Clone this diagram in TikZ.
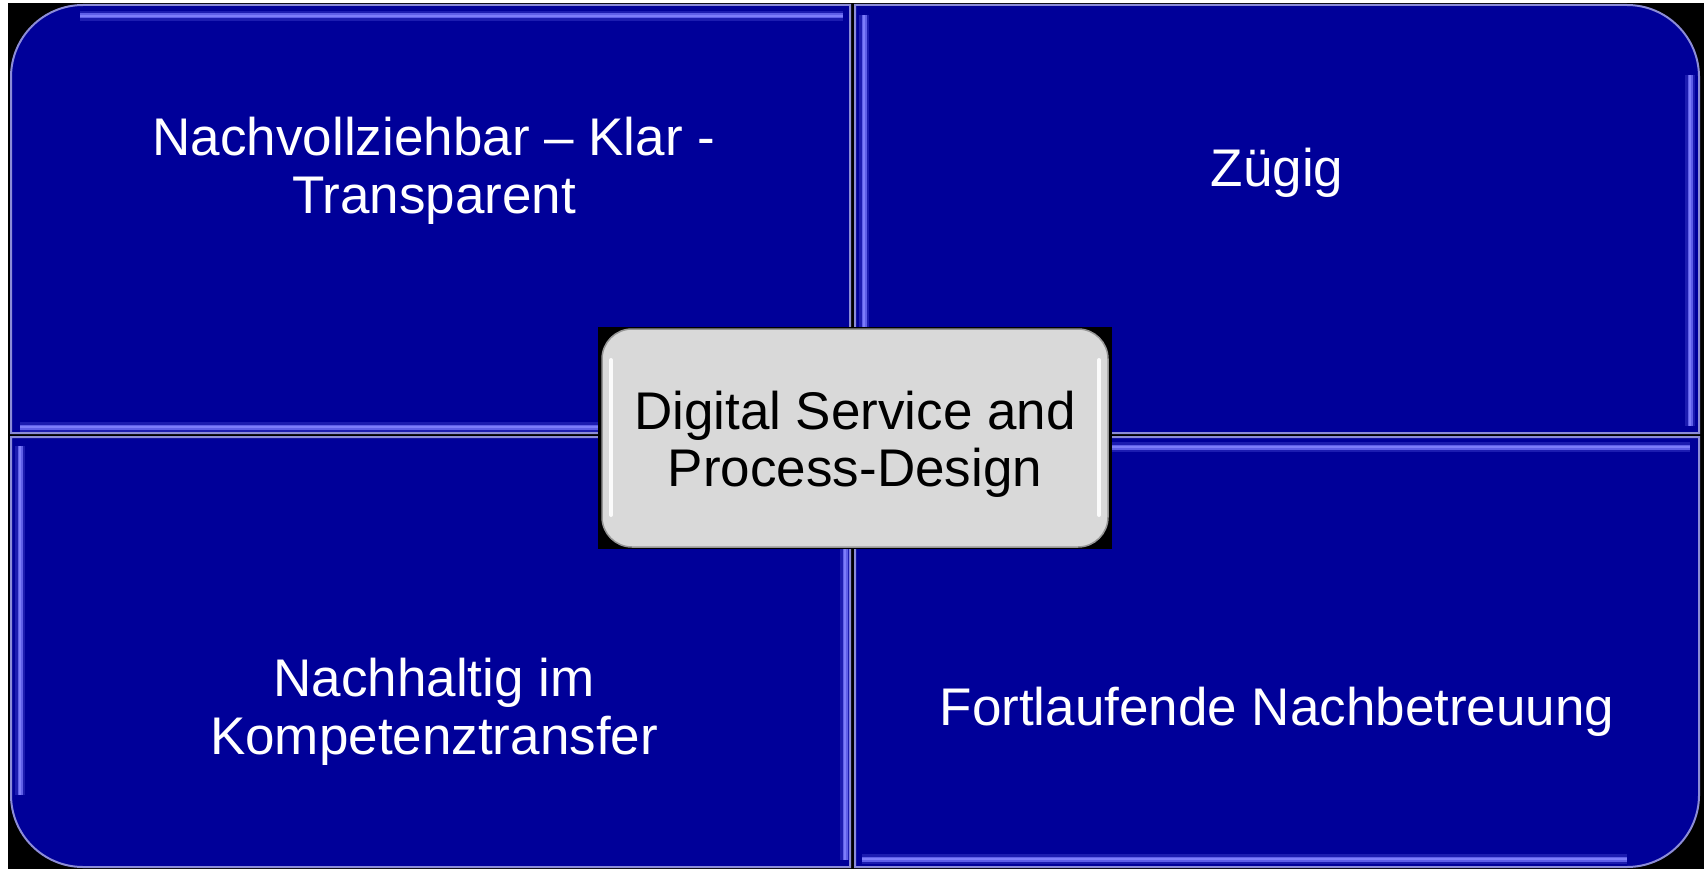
\documentclass[tikz,border=0pt]{standalone}
\usepackage{fontspec}
\setmainfont{Liberation Sans}
\definecolor{quadblue}{RGB}{0,0,153}
\definecolor{rimc}{RGB}{140,140,215}
\definecolor{stripc}{RGB}{95,95,232}
\definecolor{stripin}{RGB}{125,125,250}
\definecolor{boxgrey}{RGB}{217,217,217}
\definecolor{boxrim}{RGB}{150,150,150}
\tikzset{
  quad/.style={fill=quadblue, draw=rimc, line width=2pt},
  striphalo/.style={draw=stripc, line width=10pt, opacity=0.3},
  strip/.style={draw=stripc, line width=5pt},
  stripcore/.style={draw=stripin, line width=2pt},
  qtext/.style={text=white, align=center, inner sep=0pt, font=\fontsize{53}{58}\selectfont},
  ctext/.style={text=black, align=center, inner sep=0pt, font=\fontsize{53}{57}\selectfont},
  centerbox/.style={fill=boxgrey, draw=boxrim, line width=1.5pt, rounded corners=30pt, minimum width=506pt, minimum height=218pt, inner sep=0pt},
  shine/.style={draw=white, line width=4pt, line cap=round, opacity=0.9}
}
\begin{document}
\begin{tikzpicture}[x=1pt,y=-1pt]
\useasboundingbox (0,0) rectangle (1704,869);
\fill[white] (0,0) rectangle (1704,869);
\fill[black] (8,3) rectangle (1704,869);
% quadrants
\path[quad] (11,433) -- (11,77) .. controls (11,37.2) and (43.2,5) .. (83,5) -- (850,5) -- (850,433) -- cycle;
\path[quad] (855,5) -- (1627,5) .. controls (1666.8,5) and (1699,37.2) .. (1699,77) -- (1699,433) -- (855,433) -- cycle;
\path[quad] (11,437) -- (850,437) -- (850,867) -- (83,867) .. controls (43.2,867) and (11,834.8) .. (11,795) -- cycle;
\path[quad] (855,437) -- (1699,437) -- (1699,795) .. controls (1699,834.8) and (1666.8,867) .. (1627,867) -- (855,867) -- cycle;
% bevel strips
\foreach \a/\b in {{(80,16)/(843,16)},{(20,427)/(843,427)},{(864,15)/(864,426)},{(1690,75)/(1690,426)},{(20,446)/(20,795)},{(845,446)/(845,860)},{(862,447)/(1690,447)},{(862,859)/(1627,859)}}{
  \draw[striphalo] \a -- \b;
  \draw[strip] \a -- \b;
  \draw[stripcore] \a -- \b;
}
% texts
\node[qtext] (tl) at (434,171) {Nachvollziehbar -- Klar -\\Transparent};
\node[qtext] (tr) at (1277,173) {Zügig};
\node[qtext] (bl) at (434,712) {Nachhaltig im\\Kompetenztransfer};
\node[qtext] (br) at (1277,712) {Fortlaufende Nachbetreuung};
% center
\fill[black] (598,327) rectangle (1112,549);
\node[centerbox] (cb) at (855,438) {};
\draw[shine] (611,360) -- (611,515);
\draw[shine] (1099,360) -- (1099,515);
\node[ctext] (ct) at (855,444) {Digital Service and\\Process-Design};
\end{tikzpicture}
\end{document}
